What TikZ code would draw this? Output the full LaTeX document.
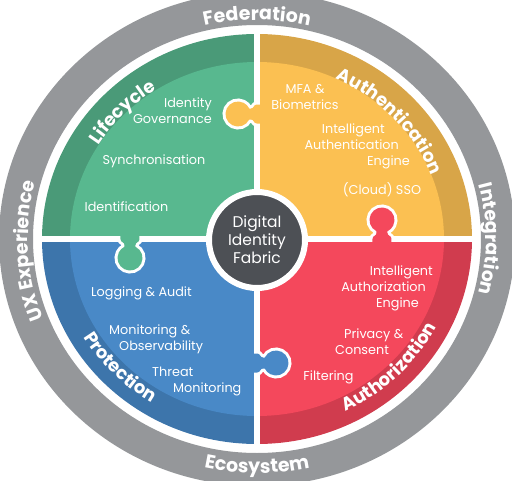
\documentclass[tikz,border=0pt]{standalone}
\usepackage{fontspec}
\setmainfont{Poppins}
\usepackage{xcolor}
\usetikzlibrary{decorations.text}

\definecolor{ringgray}{RGB}{149,151,154}
\definecolor{hubgray}{RGB}{77,80,85}
\definecolor{lifedark}{RGB}{74,154,120}
\definecolor{lifelight}{RGB}{88,184,143}
\definecolor{authdark}{RGB}{216,165,72}
\definecolor{authlight}{RGB}{251,192,82}
\definecolor{authzdark}{RGB}{208,60,78}
\definecolor{authzlight}{RGB}{244,72,92}
\definecolor{protdark}{RGB}{61,117,171}
\definecolor{protlight}{RGB}{73,137,199}

\begin{document}
\begin{tikzpicture}[
    x=1pt, y=1pt,
    item/.style={text=white, font=\fontsize{12.8}{16}\selectfont, inner sep=0pt},
    hub/.style={circle, fill=hubgray, draw=white, line width=6pt, minimum size=96pt, text=white, font=\fontsize{15.5}{18}\selectfont, align=center, inner sep=0pt},
    ringlabel/.style={decorate, decoration={text along path, text align=center, text color=white, text={|\fontsize{19}{19}\selectfont\bfseries|#1}}},
    petallabel/.style={decorate, decoration={text along path, text align=center, text color=white, text={|\fontsize{18}{18}\selectfont\bfseries|#1}}}
]
    \useasboundingbox (-257,-241) rectangle (255,239);
    \clip (-257,-241) rectangle (255,239);

    % outer ring
    \fill[ringgray, even odd rule] (0,0) ellipse [x radius=258pt, y radius=247pt]
        (0,0) ellipse [x radius=224pt, y radius=214pt];

    % quadrants with darker rim
    \foreach \a/\dk/\lt in {0/authdark/authlight, 90/lifedark/lifelight, 180/protdark/protlight, 270/authzdark/authzlight}{
        \fill[\dk] (0,0) -- (\a:215pt and 205pt) arc[start angle=\a, delta angle=90, x radius=215pt, y radius=205pt] -- cycle;
        \fill[\lt] (0,0) -- (\a:187pt and 177pt) arc[start angle=\a, delta angle=90, x radius=187pt, y radius=177pt] -- cycle;
    }
    \fill[white] (-3,-210) rectangle (3,210);
    \fill[white] (-220,-3) rectangle (220,3);

    % puzzle tabs
    \foreach \kx/\ky/\rot/\col in {0/125/180/authlight, -127/0/270/lifelight, 125/0/90/authzlight, 0/-124/0/protlight}{
        \begin{scope}[shift={(\kx,\ky)}, rotate=\rot]
            \draw[white, line width=6pt] (0,9.5) .. controls (3.5,9.5) and (3,5.5) .. (6,5.5) -- (7.78,5.5)
                arc[start angle=153.9, end angle=-153.9, radius=12.5pt] -- (6,-5.5) .. controls (3,-5.5) and (3.5,-9.5) .. (0,-9.5);
            \fill[\col] (-3.5,9.5) -- (0,9.5) .. controls (3.5,9.5) and (3,5.5) .. (6,5.5) -- (7.78,5.5)
                arc[start angle=153.9, end angle=-153.9, radius=12.5pt] -- (6,-5.5) .. controls (3,-5.5) and (3.5,-9.5) .. (0,-9.5) -- (-3.5,-9.5) -- cycle;
        \end{scope}
    }

    % curved titles
    \path[petallabel=Lifecycle] (181:187pt and 177pt) arc[start angle=181, end angle=91, x radius=187pt, y radius=177pt];
    \path[petallabel=Authentication] (87.5:187pt and 177pt) arc[start angle=87.5, end angle=-2.5, x radius=187pt, y radius=177pt];
    \path[petallabel=Protection] (179:202pt and 192pt) arc[start angle=179, end angle=269, x radius=202pt, y radius=192pt];
    \path[petallabel=Authorization] (270:202pt and 192pt) arc[start angle=270, end angle=360, x radius=202pt, y radius=192pt];

    \path[ringlabel=Federation] (135:229pt and 219pt) arc[start angle=135, end angle=45, x radius=229pt, y radius=219pt];
    \path[ringlabel=Integration] (40:229pt and 219pt) arc[start angle=40, end angle=-40, x radius=229pt, y radius=219pt];
    \path[ringlabel=UX Experience] (228:229pt and 219pt) arc[start angle=228, end angle=138, x radius=229pt, y radius=219pt];
    \path[ringlabel=Ecosystem] (225:244pt and 234pt) arc[start angle=225, end angle=315, x radius=244pt, y radius=234pt];

    % items
    \node[item, anchor=east, align=right] (governance) at (-45,128) {Identity\\Governance};
    \node[item] (sync) at (-103,78) {Synchronisation};
    \node[item] (identification) at (-130.5,32) {Identification};
    \node[item, align=center] (mfa) at (48,141.5) {MFA \&\\Biometrics};
    \node[item, anchor=east, align=right] (authengine) at (153,93) {Intelligent\kern25pt\\Authentication\kern11pt\\Engine};
    \node[item] (sso) at (125,49) {(Cloud) SSO};
    \node[item, anchor=east, align=right] (authzengine) at (176,-49) {Intelligent\\Authorization\kern7pt\\Engine\kern14pt};
    \node[item, anchor=west, align=left] (privacy) at (78,-102.5) {\kern9pt Privacy \&\\Consent};
    \node[item] (filtering) at (71.5,-138) {Filtering};
    \node[item] (logging) at (-115.5,-54) {Logging \& Audit};
    \node[item, anchor=west, align=left] (observability) at (-148,-100.5) {Monitoring \&\\\kern10pt Observability};
    \node[item, anchor=west, align=left] (threat) at (-105,-142.5) {Threat\\\kern21pt Monitoring};

    \node[hub] (fabric) at (0,-1) {Digital\\Identity\\Fabric};
\end{tikzpicture}
\end{document}
